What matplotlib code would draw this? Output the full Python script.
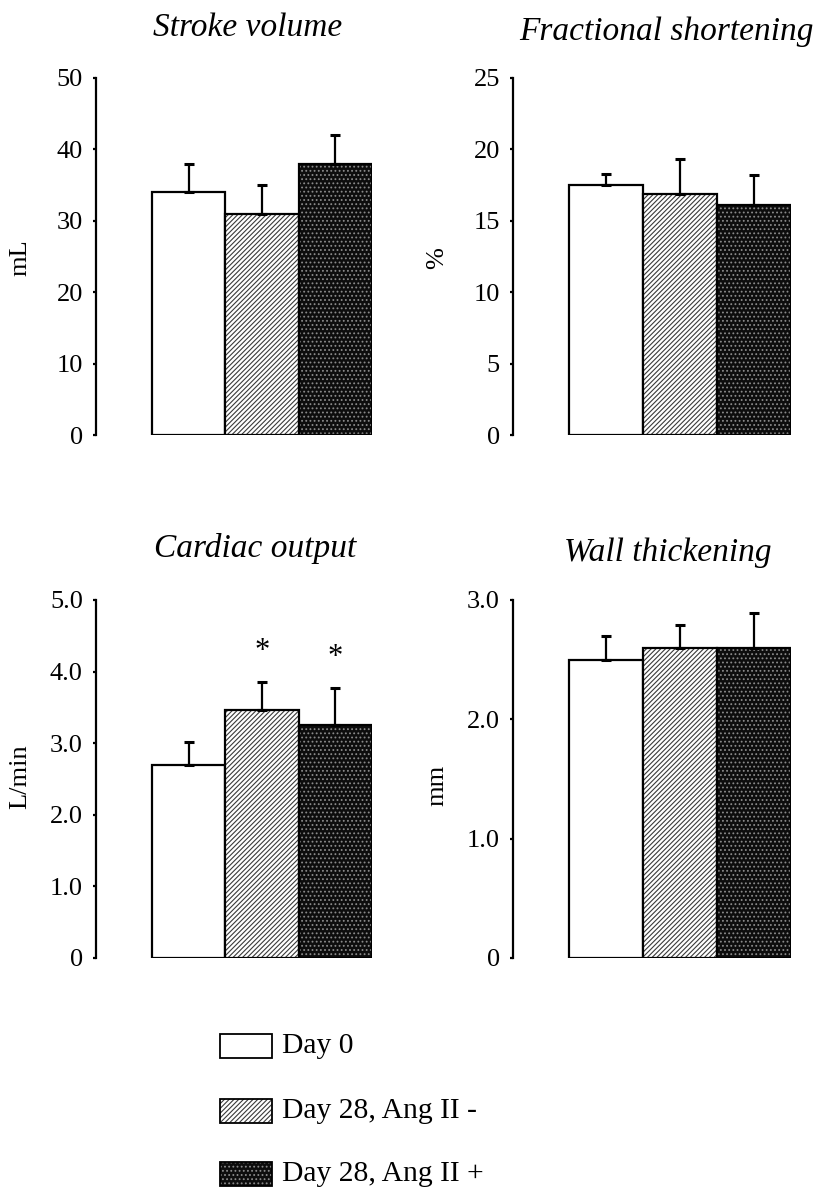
import matplotlib
matplotlib.use("Agg")
import matplotlib.pyplot as plt
import numpy as np
from matplotlib.patches import Rectangle

plt.rcParams['font.family'] = ['Liberation Serif', 'DejaVu Serif']
plt.rcParams['hatch.linewidth'] = 0.8

groups = ["Day 0", "Day 28, Ang II -", "Day 28, Ang II +"]

sv_mean = [34, 31, 38]
sv_err = [4, 4, 4]
fs_mean = [17.5, 16.9, 16.1]
fs_err = [0.8, 2.4, 2.1]
co_mean = [2.70, 3.46, 3.26]
co_err = [0.31, 0.40, 0.51]
wt_mean = [2.50, 2.60, 2.60]
wt_err = [0.20, 0.19, 0.29]

sv_ticks = [0, 10, 20, 30, 40, 50]
fs_ticks = [0, 5, 10, 15, 20, 25]
co_ticks = [0, 1.0, 2.0, 3.0, 4.0, 5.0]
wt_ticks = [0, 1.0, 2.0, 3.0]
co_ticklabels = ["0", "1.0", "2.0", "3.0", "4.0", "5.0"]
wt_ticklabels = ["0", "1.0", "2.0", "3.0"]
sv_ticklabels = [str(t) for t in sv_ticks]
fs_ticklabels = [str(t) for t in fs_ticks]

co_sig = [False, True, True]

W, H = 821, 1203
fig = plt.figure(figsize=(W / 100, H / 100), dpi=100)


def ax_at(x0, ytop, x1, ybot):
    return fig.add_axes([x0 / W, 1 - ybot / H, (x1 - x0) / W, (ybot - ytop) / H])


def draw_bars(ax, means, errs):
    x = np.arange(3)
    ax.bar(x[0], means[0], width=1.0, color='white', edgecolor='black', linewidth=1.6, zorder=2)
    ax.bar(x[1], means[1], width=1.0, color='white', edgecolor='#3a3a3a', hatch='///////', linewidth=0, zorder=2)
    ax.bar(x[1], means[1], width=1.0, fill=False, edgecolor='black', linewidth=1.6, zorder=3)
    ax.bar(x[2], means[2], width=1.0, color='#0d0d0d', edgecolor='#8a8a8a', hatch='....', linewidth=0, zorder=2)
    ax.bar(x[2], means[2], width=1.0, fill=False, edgecolor='black', linewidth=1.6, zorder=3)
    ax.errorbar(x, means, yerr=[np.zeros(3), errs], fmt='none', ecolor='black',
                elinewidth=1.6, capsize=3.5, capthick=2.2, zorder=4, clip_on=False)


def style(ax, ymax, ticks, ticklabels, xleft):
    ax.set_xlim(xleft, 2.5)
    ax.set_ylim(0, ymax)
    for s in ['top', 'right', 'bottom']:
        ax.spines[s].set_visible(False)
    ax.spines['left'].set_linewidth(1.6)
    ax.set_xticks([])
    ax.set_yticks(ticks)
    ax.set_yticklabels(ticklabels)
    ax.tick_params(axis='y', direction='out', length=2.5, width=1.6, labelsize=19, pad=7)


ax1 = ax_at(96, 78, 372, 435)
draw_bars(ax1, sv_mean, sv_err)
style(ax1, 50, sv_ticks, sv_ticklabels, -0.5 - 56 / 73.3)

ax2 = ax_at(513, 78, 791, 435)
draw_bars(ax2, fs_mean, fs_err)
style(ax2, 25, fs_ticks, fs_ticklabels, -0.5 - 56 / 74)

ax3 = ax_at(96, 600, 372, 958)
draw_bars(ax3, co_mean, co_err)
style(ax3, 5.0, co_ticks, co_ticklabels, -0.5 - 56 / 73.3)
for i in range(3):
    if co_sig[i]:
        ax3.text(i, co_mean[i] + co_err[i] + 0.22, "*", ha='center', va='bottom', fontsize=22)

ax4 = ax_at(513, 600, 791, 958)
draw_bars(ax4, wt_mean, wt_err)
style(ax4, 3.0, wt_ticks, wt_ticklabels, -0.5 - 56 / 74)

tkw = dict(fontsize=24, style='italic', ha='center', va='center')
fig.text(248 / W, 1 - 28 / H, "Stroke volume", **tkw)
fig.text(666 / W, 1 - 32 / H, "Fractional shortening", **tkw)
fig.text(255 / W, 1 - 548 / H, "Cardiac output", **tkw)
fig.text(668 / W, 1 - 553 / H, "Wall thickening", **tkw)

lkw = dict(fontsize=19, rotation=90, ha='center', va='center')
fig.text(20 / W, 1 - 258 / H, "mL", **lkw)
fig.text(437 / W, 1 - 258 / H, "%", **lkw)
fig.text(20 / W, 1 - 777 / H, "L/min", **lkw)
fig.text(437 / W, 1 - 785 / H, "mm", **lkw)

lax = fig.add_axes([0, 0, 1, 1])
lax.set_xlim(0, W)
lax.set_ylim(H, 0)
lax.axis('off')
rows_y = [1046, 1111, 1174]
styles = [dict(facecolor='white', edgecolor='none', hatch=None),
          dict(facecolor='white', edgecolor='#3a3a3a', hatch='///////'),
          dict(facecolor='#0d0d0d', edgecolor='#8a8a8a', hatch='....')]
for yy, lab, st in zip(rows_y, groups, styles):
    lax.add_patch(Rectangle((220, yy - 12), 52, 24, facecolor=st['facecolor'], edgecolor=st['edgecolor'],
                            hatch=st['hatch'], linewidth=0))
    lax.add_patch(Rectangle((220, yy - 12), 52, 24, fill=False, edgecolor='black', linewidth=1.3))
    lax.text(282, yy, lab, fontsize=21.3, ha='left', va='center')

fig.savefig("out.png", dpi=100)
